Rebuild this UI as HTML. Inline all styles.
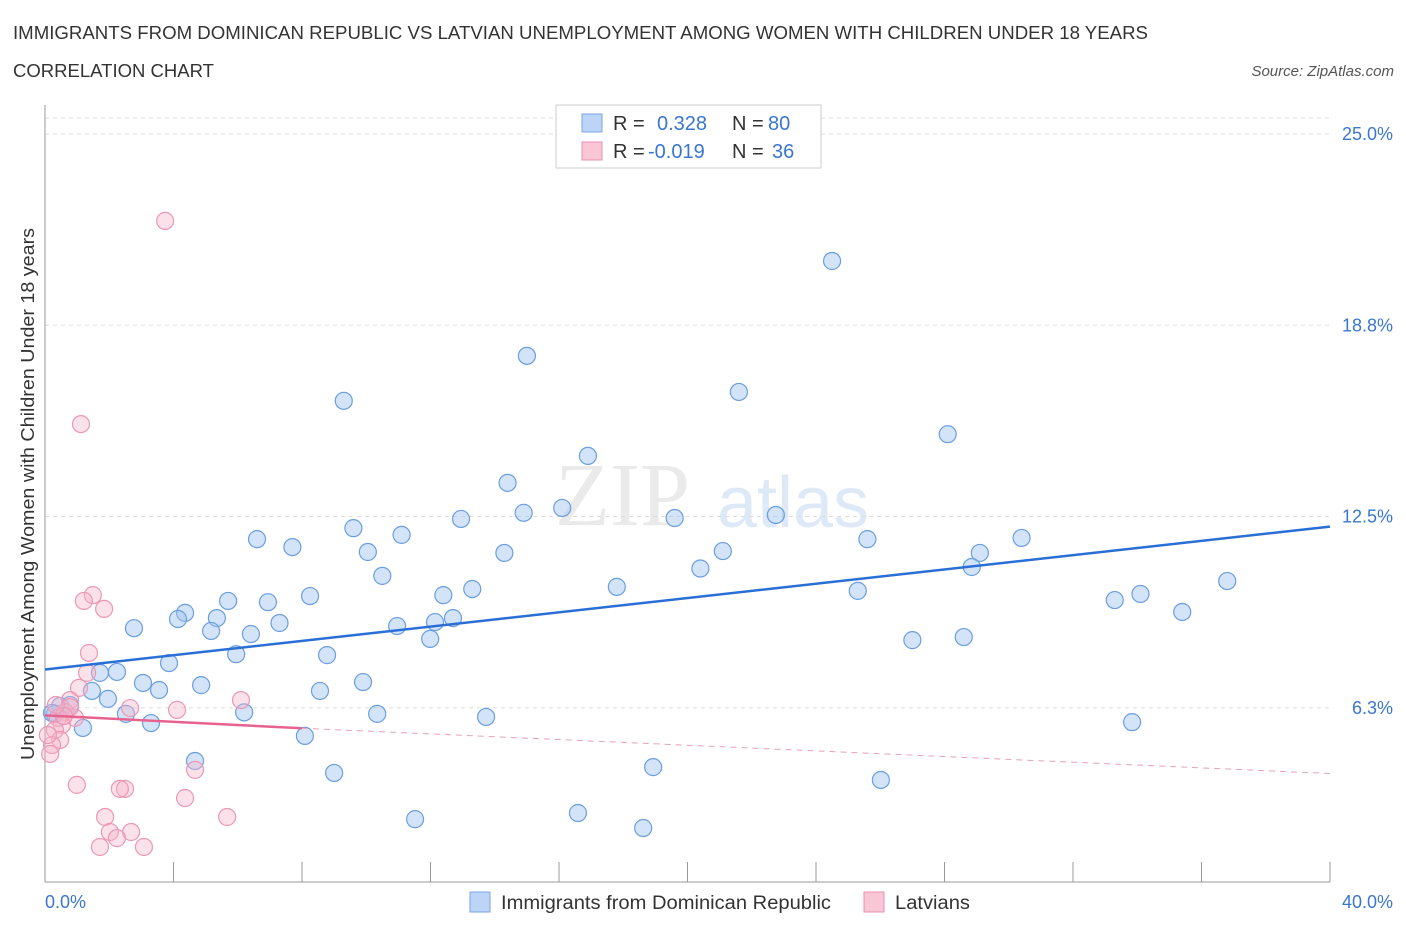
<!DOCTYPE html>
<html><head><meta charset="utf-8"><style>
body{margin:0;background:#fff;font-family:"Liberation Sans",sans-serif;}
</style></head><body>
<svg id="chart" width="1406" height="930" xmlns="http://www.w3.org/2000/svg">
<text x="13" y="39" font-size="18" fill="#333" textLength="1135" lengthAdjust="spacingAndGlyphs">IMMIGRANTS FROM DOMINICAN REPUBLIC VS LATVIAN UNEMPLOYMENT AMONG WOMEN WITH CHILDREN UNDER 18 YEARS</text>
<text x="13" y="77" font-size="18" fill="#333" textLength="201" lengthAdjust="spacingAndGlyphs">CORRELATION CHART</text>
<text x="1394" y="76" font-size="15" fill="#555" text-anchor="end" font-style="italic">Source: ZipAtlas.com</text>
<text x="555" y="525" font-size="90" fill="#ddd" font-family="Liberation Serif,serif" opacity="0.6">ZIP</text>
<text x="717" y="527" font-size="72" fill="#c8dcf3" opacity="0.6">atlas</text>
<g id="grid"></g>
<line x1="45" y1="105" x2="45" y2="882" stroke="#999" stroke-width="1"/>
<line x1="45" y1="882" x2="1330" y2="882" stroke="#999" stroke-width="1"/>
<g id="ticks"></g>
<text transform="translate(34,494) rotate(-90)" font-size="18" fill="#333" text-anchor="middle" textLength="532" lengthAdjust="spacingAndGlyphs">Unemployment Among Women with Children Under 18 years</text>
<text x="45" y="908" font-size="18" fill="#3a76d0">0.0%</text>
<text x="1393" y="908" font-size="18" fill="#3a76d0" text-anchor="end">40.0%</text>
<g id="points"></g>
<g id="lines"></g>
<g>
<rect x="556" y="105" width="265" height="63" fill="#fff" stroke="#ccc"/>
<rect x="582" y="114" width="20" height="18" fill="#bcd4f5" stroke="#7aa5e0"/>
<rect x="582" y="142" width="20" height="18" fill="#f9c6d6" stroke="#e890b0"/>
<text x="613" y="130" font-size="20" fill="#333">R = <tspan fill="#3a76d0" x="657">0.328</tspan><tspan x="732" fill="#333">N = </tspan><tspan fill="#3a76d0" x="768">80</tspan></text>
<text x="613" y="158" font-size="20" fill="#333">R = <tspan fill="#3a76d0" x="648">-0.019</tspan><tspan x="732" fill="#333">N = </tspan><tspan fill="#3a76d0" x="772">36</tspan></text>
</g>
<g>
<rect x="470" y="892" width="20" height="20" fill="#bcd4f5" stroke="#7aa5e0"/>
<text x="501" y="909" font-size="19" fill="#333" textLength="330" lengthAdjust="spacingAndGlyphs">Immigrants from Dominican Republic</text>
<rect x="864" y="892" width="20" height="20" fill="#f9c6d6" stroke="#e890b0"/>
<text x="895" y="909" font-size="19" fill="#333" textLength="75" lengthAdjust="spacingAndGlyphs">Latvians</text>
</g>
</svg>
<script>
const yTicks=[25,18.75,12.5,6.25];
const yTickLabels=["25.0%","18.8%","12.5%","6.3%"];
const xTicks=[0,4,8,12,16,20,24,28,32,36,40];
const blueX=[24.5,15,9.3,21.6,28.1,16.9,14.4,16.1,14.9,12.95,19.6,22.75,9.6,6.6,11.1,7.7,25.6,30.4,10.05,14.3,21.1,29.1,28.85,10.5,20.4,36.8,17.8,12.4,13.3,25.3,33.3,34.1,35.4,8.25,5.7,6.94,4.36,4.14,5.35,7.3,12.7,12.14,10.96,2.77,5.17,6.41,11.99,27.0,28.6,5.95,8.78,3.86,2.24,1.71,3.05,9.9,4.86,3.55,8.56,1.46,1.96,0.47,0.78,0.31,2.52,10.34,13.73,33.84,3.3,1.18,6.2,8.09,4.67,18.93,9.0,26.02,11.52,16.59,18.62,0.22];
const blueY=[20.85,17.75,16.28,16.57,15.19,14.48,13.6,12.78,12.62,12.42,12.45,12.55,12.12,11.76,11.9,11.5,11.76,11.8,11.34,11.31,11.37,11.31,10.85,10.56,10.8,10.39,10.2,9.93,10.13,10.07,9.77,9.97,9.38,9.9,9.74,9.7,9.35,9.15,9.18,9.02,9.18,9.05,8.92,8.85,8.76,8.66,8.5,8.46,8.56,8.0,7.97,7.71,7.42,7.39,7.06,7.09,6.99,6.83,6.8,6.8,6.54,6.31,6.34,6.05,6.05,6.05,5.95,5.78,5.75,5.59,6.1,5.33,4.51,4.31,4.12,3.89,2.61,2.81,2.32,6.08];
const pinkX=[3.74,1.12,1.49,1.21,1.84,1.37,1.31,1.06,0.78,2.65,4.11,6.1,0.62,0.4,0.93,0.53,0.31,0.47,0.22,0.16,0.99,2.49,2.33,1.87,5.67,4.36,2.02,2.68,2.24,1.71,3.08,4.67,0.78,0.59,0.09,0.34];
const pinkY=[22.16,15.52,9.93,9.74,9.48,8.04,7.39,6.9,6.5,6.24,6.18,6.5,6.11,5.92,5.92,5.69,5.52,5.2,5.03,4.74,3.73,3.6,3.6,2.68,2.68,3.3,2.19,2.19,1.99,1.7,1.7,4.22,6.27,5.98,5.36,6.34];
const blueFit=[[0,7.5],[40,12.17]];
const pinkFit=[[0,6.0],[8,5.58],[40,4.1]];
const NS="http://www.w3.org/2000/svg";
const X=v=>45+v*32.125, Y=v=>899-v*30.6;
function mk(t,a,p){const e=document.createElementNS(NS,t);for(const k in a)e.setAttribute(k,a[k]);p.appendChild(e);return e;}
const grid=document.getElementById('grid'),ticks=document.getElementById('ticks');
yTicks.forEach((v,i)=>{
 const l=mk('line',{x1:45,x2:1330,y1:Y(v),y2:Y(v),stroke:'#ddd','stroke-dasharray':'4,4'},grid);
 
 
 const t=mk('text',{x:1393,y:Y(v)+6,'font-size':18,fill:'#3a76d0','text-anchor':'end'},grid);
 t.textContent=yTickLabels[i];
 
 
});
mk('line',{x1:45,x2:1330,y1:118,y2:118,stroke:'#ddd','stroke-dasharray':'4,4'},grid);
xTicks.forEach(v=>{
 const l=mk('line',{x1:X(v),x2:X(v),y1:862,y2:882,stroke:'#999'},ticks);
 
 
});
const pts=document.getElementById('points');
blueX.forEach((x,i)=>{
 const c=mk('circle',{cx:X(x),cy:Y(blueY[i]),r:8.5,fill:'rgba(160,195,240,0.45)',stroke:'#6a9ee0','stroke-width':1.2},pts);
 
 
});
pinkX.forEach((x,i)=>{
 const c=mk('circle',{cx:X(x),cy:Y(pinkY[i]),r:8.5,fill:'rgba(245,180,200,0.4)',stroke:'#eb98b6','stroke-width':1.2},pts);
 
 
});
const ln=document.getElementById('lines');
let b=mk('line',{x1:X(blueFit[0][0]),y1:Y(blueFit[0][1]),x2:X(blueFit[1][0]),y2:Y(blueFit[1][1]),stroke:'#2a6fd6','stroke-width':2.5},ln);


let p1=mk('line',{x1:X(pinkFit[0][0]),y1:Y(pinkFit[0][1]),x2:X(pinkFit[1][0]),y2:Y(pinkFit[1][1]),stroke:'#e8628f','stroke-width':2.5},ln);


let p2=mk('line',{x1:X(pinkFit[1][0]),y1:Y(pinkFit[1][1]),x2:X(pinkFit[2][0]),y2:Y(pinkFit[2][1]),stroke:'#e8a0b8','stroke-width':1,'stroke-dasharray':'6,5'},ln);


</script>
</body></html>
